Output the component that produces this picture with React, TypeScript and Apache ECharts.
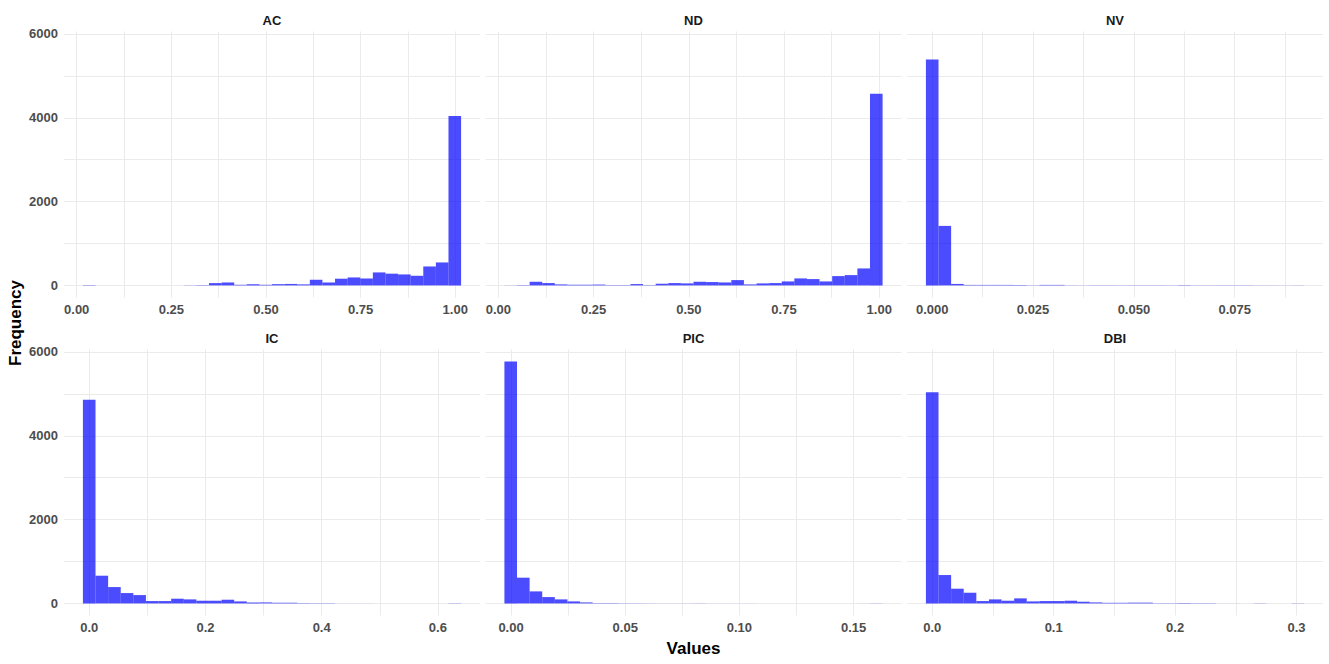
import { useEffect, useRef } from "react";
import * as echarts from "echarts";

// ---- Data (30 bins per facet) ----
const panelNames = ["AC", "ND", "NV", "IC", "PIC", "DBI"];

const acBinStart = 0.0164;
const acBinWidth = 0.0333;
const acCounts = [8, 0, 0, 0, 0, 0, 0, 0, 4, 8, 55, 70, 15, 25, 15, 30, 35, 25, 135, 70, 160, 190, 165, 310, 280, 262, 230, 452, 548, 4040];

const ndBinStart = 0.0158;
const ndBinWidth = 0.0331;
const ndCounts = [3, 8, 87, 56, 24, 16, 16, 20, 8, 8, 32, 8, 40, 56, 48, 87, 80, 71, 127, 24, 48, 56, 95, 167, 151, 95, 222, 246, 405, 4575];

const nvBinStart = -0.00156;
const nvBinWidth = 0.003125;
const nvCounts = [5390, 1420, 35, 12, 12, 12, 12, 10, 5, 12, 12, 4, 3, 5, 5, 4, 5, 5, 5, 4, 8, 4, 4, 5, 5, 5, 3, 3, 2, 3];

const icBinStart = -0.011;
const icBinWidth = 0.0217;
const icCounts = [4860, 661, 390, 247, 199, 56, 56, 112, 96, 64, 64, 88, 48, 24, 24, 16, 16, 8, 6, 6, 1, 1, 1, 0, 0, 0, 0, 0, 0, 5];

const picBinStart = -0.0029;
const picBinWidth = 0.00552;
const picCounts = [5770, 614, 287, 151, 96, 48, 24, 8, 8, 5, 4, 3, 2, 2, 2, 3, 1, 1, 1, 1, 0, 0, 0, 0, 0, 0, 0, 0, 1, 3];

const dbiBinStart = -0.0052;
const dbiBinWidth = 0.01038;
const dbiCounts = [5037, 677, 351, 255, 56, 96, 64, 120, 48, 56, 56, 64, 40, 24, 14, 14, 18, 18, 6, 6, 10, 6, 6, 1, 1, 0, 4, 0, 0, 4];

// tick label steps (major gridline / label spacing) and label decimals
const acMajor = 0.25, ndMajor = 0.25, nvMajor = 0.025, icMajor = 0.2, picMajor = 0.05, dbiMajor = 0.1;
const acDigits = 2, ndDigits = 2, nvDigits = 3, icDigits = 1, picDigits = 2, dbiDigits = 1;
const yLabelStep = 2000;
const yGridStep = 1000;

const xTitle = "Values";
const yTitle = "Frequency";

export default function App() {
  const ref = useRef<HTMLDivElement>(null);

  useEffect(() => {
    if (!ref.current) return;
    document.body.style.margin = "0";
    const chart = echarts.init(ref.current, null, { renderer: "svg" });

    const panels = [
      { name: panelNames[0], start: acBinStart, width: acBinWidth, counts: acCounts, major: acMajor, digits: acDigits },
      { name: panelNames[1], start: ndBinStart, width: ndBinWidth, counts: ndCounts, major: ndMajor, digits: ndDigits },
      { name: panelNames[2], start: nvBinStart, width: nvBinWidth, counts: nvCounts, major: nvMajor, digits: nvDigits },
      { name: panelNames[3], start: icBinStart, width: icBinWidth, counts: icCounts, major: icMajor, digits: icDigits },
      { name: panelNames[4], start: picBinStart, width: picBinWidth, counts: picCounts, major: picMajor, digits: picDigits },
      { name: panelNames[5], start: dbiBinStart, width: dbiBinWidth, counts: dbiCounts, major: dbiMajor, digits: dbiDigits },
    ];

    const gridLefts = [64, 485.5, 907];
    const gridTops = [31.5, 349.5];
    const gridW = 416;
    const gridH = 266;

    const maxCount = Math.max(...panels.map((p) => Math.max(...p.counts)));
    const yMax = maxCount * 1.05;
    const yMin = -maxCount * 0.05;

    const font = '"Liberation Sans", Arial, Helvetica, sans-serif';
    const gridColor = "#EBEBEB";

    const option: any = {
      animation: false,
      backgroundColor: "#FFFFFF",
      grid: panels.map((_, i) => ({
        left: gridLefts[i % 3],
        top: gridTops[Math.floor(i / 3)],
        width: gridW,
        height: gridH,
        containLabel: false,
      })),
      xAxis: panels.map((p, i) => {
        const lo = p.start;
        const hi = p.start + p.width * p.counts.length;
        const pad = (hi - lo) * 0.05;
        return {
          type: "value",
          gridIndex: i,
          min: lo - pad,
          max: hi + pad,
          minInterval: p.major / 2,
          maxInterval: p.major / 2,
          axisLine: { show: false },
          axisTick: { show: false },
          axisLabel: {
            show: true,
            showMinLabel: false,
            showMaxLabel: false,
            margin: 5,
            color: "#4D4D4D",
            fontWeight: "bold",
            fontSize: 13,
            fontFamily: font,
            formatter: (v: number) => {
              const r = v / p.major;
              if (Math.abs(r - Math.round(r)) > 1e-6) return "";
              const val = Math.abs(v) < 1e-9 ? 0 : v;
              return val.toFixed(p.digits);
            },
          },
          splitLine: {
            show: true,
            showMinLine: false,
            showMaxLine: false,
            lineStyle: { color: gridColor, width: 1 },
          },
        };
      }),
      yAxis: panels.map((_, i) => ({
        type: "value",
        gridIndex: i,
        min: yMin,
        max: yMax,
        minInterval: yGridStep,
        maxInterval: yGridStep,
        axisLine: { show: false },
        axisTick: { show: false },
        axisLabel: {
          show: i % 3 === 0,
          showMinLabel: false,
          showMaxLabel: false,
          margin: 6,
          color: "#4D4D4D",
          fontWeight: "bold",
          fontSize: 13,
          fontFamily: font,
          formatter: (v: number) => (Math.abs(v % yLabelStep) < 1e-6 && v >= 0 ? String(Math.round(v)) : ""),
        },
        splitLine: {
          show: true,
          showMinLine: false,
          showMaxLine: false,
          lineStyle: { color: gridColor, width: 1 },
        },
      })),
      series: panels.map((p, i) => ({
        type: "custom",
        xAxisIndex: i,
        yAxisIndex: i,
        silent: true,
        encode: { x: [0, 1], y: 2 },
        data: p.counts.map((c, k) => [p.start + k * p.width, p.start + (k + 1) * p.width, c]),
        renderItem: (_params: any, api: any) => {
          const a = api.coord([api.value(0), 0]);
          const b = api.coord([api.value(1), api.value(2)]);
          return {
            type: "rect",
            shape: { x: a[0], y: b[1], width: b[0] - a[0], height: a[1] - b[1] },
            style: { fill: "rgba(0,0,255,0.7)" },
          };
        },
      })),
      graphic: [
        ...panels.map((p, i) => ({
          type: "text",
          x: gridLefts[i % 3] + gridW / 2,
          y: gridTops[Math.floor(i / 3)] - 11.5,
          style: {
            text: p.name,
            fill: "#1A1A1A",
            fontSize: 13,
            fontWeight: "bold",
            fontFamily: font,
            align: "center",
            verticalAlign: "middle",
          },
        })),
        {
          type: "text",
          x: (gridLefts[0] + gridLefts[2] + gridW) / 2,
          y: 648,
          style: {
            text: xTitle,
            fill: "#000000",
            fontSize: 17,
            fontWeight: "bold",
            fontFamily: font,
            align: "center",
            verticalAlign: "middle",
          },
        },
        {
          type: "text",
          x: 15,
          y: 323,
          rotation: Math.PI / 2,
          style: {
            text: yTitle,
            fill: "#000000",
            fontSize: 17,
            fontWeight: "bold",
            fontFamily: font,
            align: "center",
            verticalAlign: "middle",
          },
        },
      ],
    };

    chart.setOption(option);
    return () => chart.dispose();
  }, []);

  return (
    <div
      ref={ref}
      style={{ position: "fixed", left: 0, top: 0, width: 1329, height: 664, background: "#fff" }}
    />
  );
}
